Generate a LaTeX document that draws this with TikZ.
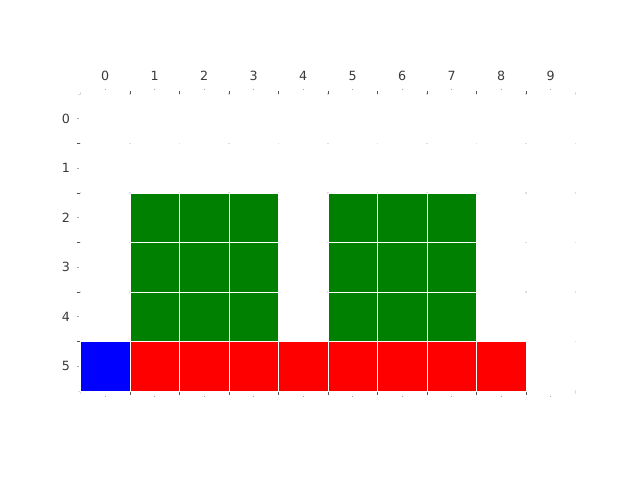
\documentclass[tikz,border=0pt]{standalone}
\usepackage{fontspec}
\setmainfont{DejaVu Sans}
\definecolor{mgreen}{HTML}{008000}
\definecolor{mred}{HTML}{FF0000}
\definecolor{mblue}{HTML}{0000FF}
\definecolor{labc}{HTML}{3A3A3A}
\definecolor{tickc}{HTML}{555555}
\definecolor{gridc}{HTML}{DDDDDD}
\begin{document}
\begin{tikzpicture}[x=0.75pt,y=-0.75pt,
  cell/.style={draw=white,line width=0.75pt,minimum size=37.125pt,inner sep=0pt,outer sep=0pt},
  lab/.style={text=labc,font=\fontsize{9.5}{10}\selectfont,inner sep=0pt},
  minortick/.style={draw=tickc,line width=0.6pt},
  edgetick/.style={draw=gridc,line width=0.6pt},
  majortick/.style={draw=gray!70,line width=0.6pt},
  griddot/.style={fill=gridc}]
\useasboundingbox (0,0) rectangle (640,480);
% faint grid dots at intersections
\foreach \i in {0,...,10}{
  \foreach \j in {0,...,6}{
    \fill[griddot] ({80.5+49.5*\i-0.8},{94+49.5*\j-0.8}) rectangle ++(1.6,1.6);
  }
}
% cells
\node[cell,fill=mblue] (c-5-0) at ({80.5+49.5*0.5},{94+49.5*5.5}) {};
\foreach \c in {1,...,8}{
  \node[cell,fill=mred] (c-5-\c) at ({80.5+49.5*(\c+0.5)},{94+49.5*5.5}) {};
}
\foreach \r in {2,3,4}{
  \foreach \c in {1,2,3,5,6,7}{
    \node[cell,fill=mgreen] (c-\r-\c) at ({80.5+49.5*(\c+0.5)},{94+49.5*(\r+0.5)}) {};
  }
}
% column labels and ticks
\foreach \c in {0,...,9}{
  \node[lab] (top-\c) at ({80.5+49.5*(\c+0.5)},76) {\c};
  \draw[majortick] ({80.5+49.5*(\c+0.5)},88.5) -- ++(0,1.5);
  \draw[majortick] ({80.5+49.5*(\c+0.5)},395.5) -- ++(0,1.5);
}
\foreach \c in {1,...,9}{
  \draw[minortick] ({80.5+49.5*\c},90.5) -- ++(0,3.5);
  \draw[minortick] ({80.5+49.5*\c},391.5) -- ++(0,3.5);
}
\foreach \c in {0,10}{
  \draw[edgetick] ({80.5+49.5*\c},91.5) -- ++(0,2);
  \draw[edgetick] ({80.5+49.5*\c},391.5) -- ++(0,2);
}
% row labels and ticks
\foreach \r in {0,...,5}{
  \node[lab] (left-\r) at (66,{94+49.5*(\r+0.5)}) {\r};
  \draw[majortick] (77,{94+49.5*(\r+0.5)}) -- ++(1.5,0);
}
\foreach \r in {1,...,5}{
  \draw[minortick] (76.5,{94+49.5*\r}) -- ++(3.5,0);
}
\foreach \r in {0,6}{
  \draw[edgetick] (78,{94+49.5*\r}) -- ++(2,0);
}
\end{tikzpicture}
\end{document}
